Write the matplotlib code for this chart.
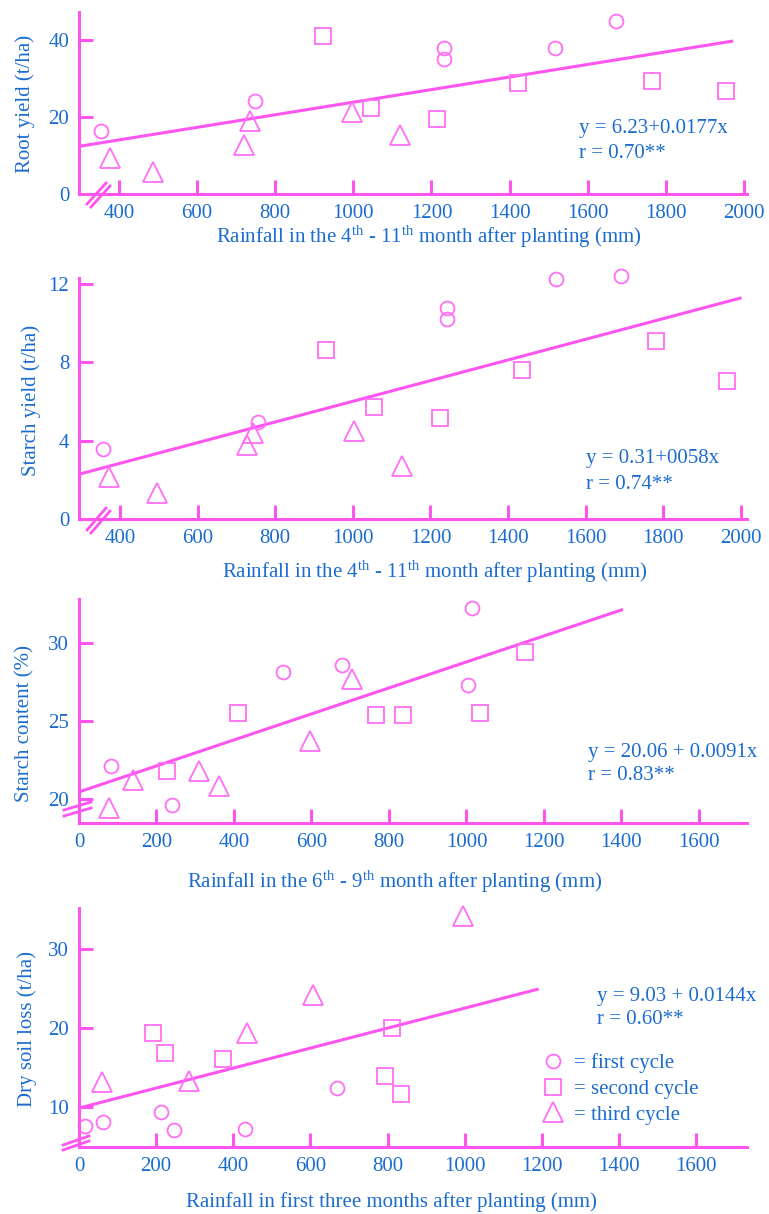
import numpy as np
import matplotlib.pyplot as plt
from matplotlib.lines import Line2D

plt.rcParams['font.family'] = ['Liberation Serif', 'DejaVu Serif']
plt.rcParams['mathtext.fontset'] = 'custom'
plt.rcParams['mathtext.rm'] = 'Liberation Serif'
plt.rcParams['mathtext.it'] = 'Liberation Serif:italic'

pink = '#ff55f0'
pink_mark = '#ff6ef5'
blue = '#1b6cd0'

# Panel 1: root yield vs rainfall 4th-11th month
p1_circ_x = [354, 748, 1232, 1232, 1516, 1672]
p1_circ_y = [16.4, 24.2, 37.9, 35.1, 37.9, 44.9]
p1_sq_x = [922, 1045, 1214, 1421, 1765, 1954]
p1_sq_y = [41.0, 22.3, 19.5, 28.8, 29.4, 26.8]
p1_tri_x = [377, 487, 720, 735, 996, 1119]
p1_tri_y = [9.4, 5.7, 12.7, 19.0, 21.3, 15.3]
p1_fit_x = [305, 1969]
p1_fit_y = [12.5, 39.7]

# Panel 2: starch yield vs rainfall 4th-11th month
p2_circ_x = [356, 756, 1243, 1243, 1524, 1691]
p2_circ_y = [3.57, 4.95, 10.77, 10.2, 12.24, 12.4]
p2_sq_x = [931, 1055, 1225, 1436, 1781, 1964]
p2_sq_y = [8.6, 5.7, 5.15, 7.6, 9.08, 7.04]
p2_tri_x = [372, 495, 727, 743, 1003, 1127]
p2_tri_y = [2.14, 1.33, 3.78, 4.39, 4.49, 2.7]
p2_fit_x = [297, 1998]
p2_fit_y = [2.3, 11.27]

# Panel 3: starch content vs rainfall 6th-9th month
p3_circ_x = [83, 241, 527, 680, 1013, 1003]
p3_circ_y = [22.1, 19.6, 28.1, 28.6, 32.2, 27.3]
p3_sq_x = [227, 411, 767, 835, 1034, 1152]
p3_sq_y = [21.8, 25.5, 25.4, 25.4, 25.5, 29.4]
p3_tri_x = [78, 140, 310, 362, 597, 704]
p3_tri_y = [19.4, 21.2, 21.8, 20.8, 23.7, 27.7]
p3_fit_x = [0, 1400]
p3_fit_y = [20.45, 32.1]

# Panel 4: dry soil loss vs rainfall first three months
p4_circ_x = [16, 63, 212, 247, 430, 668]
p4_circ_y = [7.6, 8.1, 9.4, 7.1, 7.2, 12.4]
p4_sq_x = [191, 223, 373, 794, 812, 835]
p4_sq_y = [19.4, 16.8, 16.1, 13.9, 20.0, 11.6]
p4_tri_x = [60, 286, 435, 608, 995]
p4_tri_y = [13.2, 13.3, 19.4, 24.2, 34.2]
p4_fit_x = [0, 1188]
p4_fit_y = [9.87, 24.9]

W, H = 769, 1214
fig = plt.figure(figsize=(W / 100, H / 100), dpi=100)


def fx(px):
    return px / W


def fy(py):
    return 1 - py / H


def make_panel(top, bottom, xlim, ylim, xticks, yticks,
               cx, cy, sx, sy, tx, ty, fit_x, fit_y):
    ax = fig.add_axes([fx(79), fy(bottom), fx(747) - fx(79), fy(top) - fy(bottom)])
    ax.plot(fit_x, fit_y, color=pink, lw=2.2, zorder=2)
    ax.plot(cx, cy, 'o', ms=10, mfc='none', mec=pink_mark, mew=1.3, clip_on=False)
    ax.plot(sx, sy, 's', ms=11, mfc='none', mec=pink_mark, mew=1.3, clip_on=False)
    ax.plot(tx, ty, '^', ms=14, mfc='none', mec=pink_mark, mew=1.3, clip_on=False)
    ax.set_xlim(xlim)
    ax.set_ylim(ylim)
    ax.set_xticks(xticks)
    ax.set_yticks(yticks)
    for s in ['top', 'right']:
        ax.spines[s].set_visible(False)
    for s in ['left', 'bottom']:
        ax.spines[s].set_color(pink)
        ax.spines[s].set_linewidth(2.2)
    ax.tick_params(direction='in', length=10, width=2.2, color=pink,
                   labelcolor=blue, labelsize=15, pad=7)
    ax.patch.set_alpha(0)
    return ax


def break_mark(pts):
    for (x0, y0, x1, y1) in pts:
        fig.add_artist(Line2D([fx(x0), fx(x1)], [fy(y0), fy(y1)], color=pink, lw=2.0))


# panel 1
ax1 = make_panel(12, 194, (297.6, 2008), (0, 47.3), range(400, 2001, 200), [0, 20, 40],
                 p1_circ_x, p1_circ_y, p1_sq_x, p1_sq_y, p1_tri_x, p1_tri_y, p1_fit_x, p1_fit_y)
break_mark([(87, 204, 106, 183), (91, 207, 110, 186)])
fig.text(fx(25), fy(104), 'Root yield (t/ha)', rotation=90, ha='center', va='center', color=blue, fontsize=15)
fig.text(fx(429), fy(237), 'Rainfall in the 4$^{\\mathrm{th}}$ - 11$^{\\mathrm{th}}$ month after planting (mm)',
         ha='center', va='center', color=blue, fontsize=15)
fig.text(fx(579), fy(128), 'y = 6.23+0.0177x', ha='left', va='center', color=blue, fontsize=15)
fig.text(fx(579), fy(153), 'r = 0.70**', ha='left', va='center', color=blue, fontsize=15)

# panel 2
ax2 = make_panel(278, 519, (294, 2016), (0, 12.3), range(400, 2001, 200), [0, 4, 8, 12],
                 p2_circ_x, p2_circ_y, p2_sq_x, p2_sq_y, p2_tri_x, p2_tri_y, p2_fit_x, p2_fit_y)
break_mark([(87, 530, 106, 508), (91, 533, 110, 511)])
fig.text(fx(31), fy(400), 'Starch yield (t/ha)', rotation=90, ha='center', va='center', color=blue, fontsize=15)
fig.text(fx(435), fy(572), 'Rainfall in the 4$^{\\mathrm{th}}$ - 11$^{\\mathrm{th}}$ month after planting (mm)',
         ha='center', va='center', color=blue, fontsize=15)
fig.text(fx(586), fy(459), 'y = 0.31+0058x', ha='left', va='center', color=blue, fontsize=15)
fig.text(fx(586), fy(484), 'r = 0.74**', ha='left', va='center', color=blue, fontsize=15)

# panel 3
ax3 = make_panel(599, 823, (0, 1724), (18.46, 32.8), range(0, 1601, 200), [20, 25, 30],
                 p3_circ_x, p3_circ_y, p3_sq_x, p3_sq_y, p3_tri_x, p3_tri_y, p3_fit_x, p3_fit_y)
break_mark([(64, 810, 91, 802), (64, 816, 91, 808)])
fig.text(fx(25), fy(724), 'Starch content (%)', rotation=90, ha='center', va='center', color=blue, fontsize=15)
fig.text(fx(395), fy(882), 'Rainfall in the 6$^{\\mathrm{th}}$ - 9$^{\\mathrm{th}}$ month after planting (mm)',
         ha='center', va='center', color=blue, fontsize=15)
fig.text(fx(588), fy(752), 'y = 20.06 + 0.0091x', ha='left', va='center', color=blue, fontsize=15)
fig.text(fx(588), fy(775), 'r = 0.83**', ha='left', va='center', color=blue, fontsize=15)

# panel 4
ax4 = make_panel(908, 1147, (0, 1732), (4.94, 35.2), range(0, 1601, 200), [10, 20, 30],
                 p4_circ_x, p4_circ_y, p4_sq_x, p4_sq_y, p4_tri_x, p4_tri_y, p4_fit_x, p4_fit_y)
break_mark([(63, 1145, 89, 1136), (63, 1150, 89, 1141)])
fig.text(fx(27), fy(1029), 'Dry soil loss (t/ha)', rotation=90, ha='center', va='center', color=blue, fontsize=15)
fig.text(fx(391), fy(1202), 'Rainfall in first three months after planting (mm)',
         ha='center', va='center', color=blue, fontsize=15)
fig.text(fx(597), fy(997), 'y = 9.03 + 0.0144x', ha='left', va='center', color=blue, fontsize=15)
fig.text(fx(597), fy(1020), 'r = 0.60**', ha='left', va='center', color=blue, fontsize=15)

# legend for the cycles
handles = [Line2D([], [], marker='o', ms=10, ls='none', mfc='none', mec=pink_mark, mew=1.3),
           Line2D([], [], marker='s', ms=11, ls='none', mfc='none', mec=pink_mark, mew=1.3),
           Line2D([], [], marker='^', ms=14, ls='none', mfc='none', mec=pink_mark, mew=1.3)]
leg = fig.legend(handles, ['= first cycle', '= second cycle', '= third cycle'],
                 loc='center left', bbox_to_anchor=(fx(543), fy(1089)), frameon=False,
                 fontsize=15, handlelength=1.0, handletextpad=0.5, labelspacing=0.3,
                 borderpad=0, borderaxespad=0)
for t in leg.get_texts():
    t.set_color(blue)

fig.savefig('out.png', dpi=100)
